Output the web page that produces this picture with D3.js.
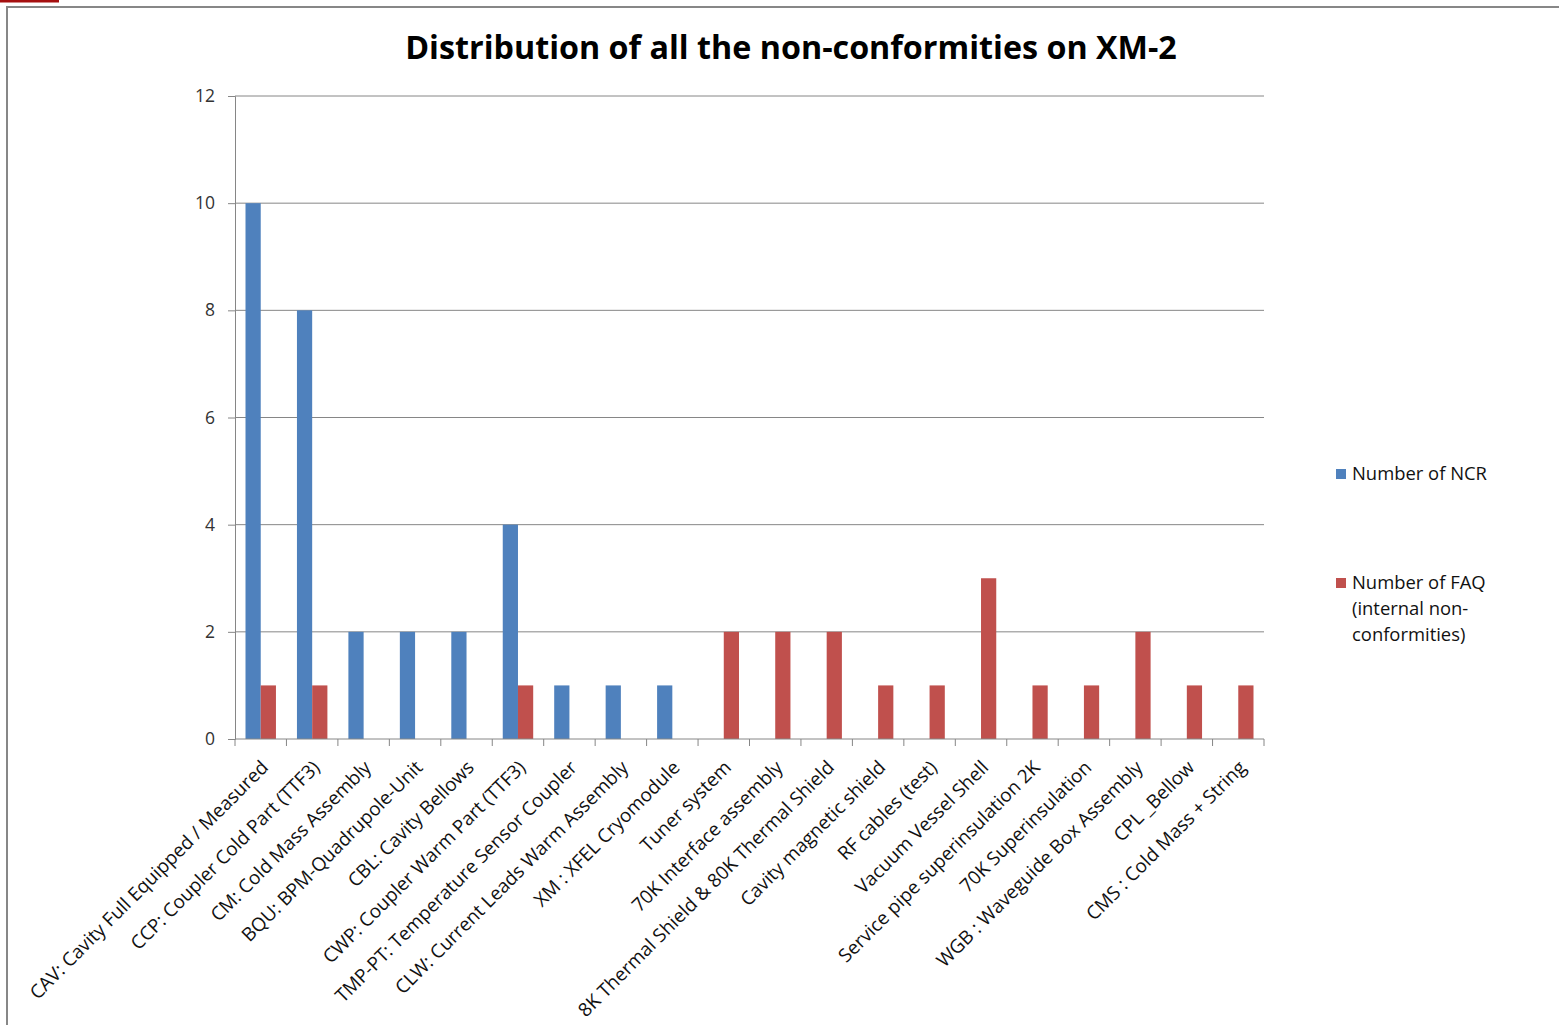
<!DOCTYPE html>
<html>
<head>
<meta charset="utf-8">
<script src="https://cdn.jsdelivr.net/npm/d3@7"></script>
<style>
  body { margin: 0; background: #fff; }
  text { font-family: "Open Sans", sans-serif; }
</style>
</head>
<body>
<div id="viz"></div>
<script>
// categories and series values
const categories = [
  "CAV: Cavity Full Equipped / Measured",
  "CCP: Coupler Cold Part (TTF3)",
  "CM: Cold Mass Assembly",
  "BQU: BPM-Quadrupole-Unit",
  "CBL: Cavity Bellows",
  "CWP: Coupler Warm Part (TTF3)",
  "TMP-PT: Temperature Sensor Coupler",
  "CLW: Current Leads Warm Assembly",
  "XM : XFEL Cryomodule",
  "Tuner system",
  "70K Interface assembly",
  "8K Thermal Shield & 80K Thermal Shield",
  "Cavity magnetic shield",
  "RF cables (test)",
  "Vacuum Vessel Shell",
  "Service pipe superinsulation 2K",
  "70K Superinsulation",
  "WGB : Waveguide Box Assembly",
  "CPL _Bellow",
  "CMS : Cold Mass + String"
]
const ncr = [10, 8, 2, 2, 2, 4, 1, 1, 1, 0, 0, 0, 0, 0, 0, 0, 0, 0, 0, 0]
const faq = [1, 1, 0, 0, 0, 1, 0, 0, 0, 2, 2, 2, 1, 1, 3, 1, 1, 2, 1, 1]
const yTicks = [0, 2, 4, 6, 8, 10, 12]
const seriesNames = ["Number of NCR", "Number of FAQ"]
const legendLines = [["Number of NCR"], ["Number of FAQ", "(internal non-", "conformities)"]]
const colors = ["#4F81BD", "#C0504D"]

const width = 1559
const height = 1025
const margin = {left: 235, top: 96, right: 295, bottom: 286}
const g_width = width - margin.left - margin.right
const g_height = height - margin.top - margin.bottom

// scale a text's font size so its first element spans the target width
function fitSize(sel, base, target) {
  const w = sel.node().getComputedTextLength()
  const s = base * target / w
  sel.attr("font-size", s)
  return s
}

const svg = d3.select("#viz")
  .append("svg")
  .attr("width", width)
  .attr("height", height)

// outer frame
svg.append("rect")
  .attr("x", 7).attr("y", 7)
  .attr("width", width + 10).attr("height", height + 10)
  .attr("fill", "none")
  .attr("stroke", "#878787")
  .attr("stroke-width", 2)
svg.append("rect")
  .attr("x", 0).attr("y", 0)
  .attr("width", 59).attr("height", 2.5)
  .attr("fill", "#A50F0F")

// title
const title = svg.append("text")
  .attr("x", 791)
  .attr("y", 59)
  .attr("text-anchor", "middle")
  .attr("font-size", 30)
  .attr("font-weight", "bold")
  .attr("fill", "#000")
  .text("Distribution of all the non-conformities on XM-2")
fitSize(title, 30, 772)

const g = svg.append("g")
  .attr("transform", "translate(" + margin.left + "," + margin.top + ")")

const x = d3.scaleBand().domain(categories).range([0, g_width])
const x1 = d3.scaleBand().domain(seriesNames).range([10.5, x.bandwidth() - 10.5])
const y = d3.scaleLinear().domain([0, 12]).range([g_height, 0])

// gridlines
g.append("g")
  .selectAll("line")
  .data(yTicks.slice(1))
  .enter()
  .append("line")
  .attr("x1", 0).attr("x2", g_width)
  .attr("y1", d => y(d)).attr("y2", d => y(d))
  .attr("stroke", "#868686")
  .attr("stroke-width", 1)

// y axis
const yAxis = g.append("g")
  .call(d3.axisLeft(y).tickValues(yTicks).tickSize(7).tickPadding(13))
yAxis.selectAll("path, line").attr("stroke", "#868686")
yAxis.selectAll("text")
  .style("font-family", "'Open Sans', sans-serif")
  .style("font-size", "17.5px")
  .attr("fill", "#333")

// bars
const rows = categories.map((c, i) => ({cat: c, values: [ncr[i], faq[i]]}))
const groups = g.selectAll(".grp")
  .data(rows)
  .enter()
  .append("g")
  .attr("transform", d => "translate(" + x(d.cat) + ",0)")
groups.selectAll("rect")
  .data(d => d.values.map((v, k) => ({name: seriesNames[k], v: v, k: k})).filter(e => e.v > 0))
  .enter()
  .append("rect")
  .attr("x", d => x1(d.name))
  .attr("width", x1.bandwidth())
  .attr("y", d => y(d.v))
  .attr("height", d => g_height - y(d.v))
  .attr("fill", d => colors[d.k])

// x axis with ticks on the category boundaries
const xa = g.append("g").attr("transform", "translate(0," + g_height + ")")
xa.append("line")
  .attr("x1", 0).attr("x2", g_width)
  .attr("stroke", "#868686")
xa.selectAll(".tk")
  .data(categories.concat(["end"]))
  .enter()
  .append("line")
  .attr("x1", (d, i) => i * x.step()).attr("x2", (d, i) => i * x.step())
  .attr("y1", 0).attr("y2", 7)
  .attr("stroke", "#868686")
const labels = xa.selectAll(".lbl")
  .data(categories)
  .enter()
  .append("text")
  .attr("transform", d => "translate(" + (x(d) + x.bandwidth() / 2 + 4) + ",25)rotate(-45)")
  .attr("dy", "0.35em")
  .attr("text-anchor", "end")
  .attr("font-size", 17)
  .attr("fill", "#111")
  .text(d => d)
fitSize(labels, 17, 328)

// legend
const legend = svg.append("g")
const legendY = [474, 583]
legendLines.forEach((lines, k) => {
  legend.append("rect")
    .attr("x", 1336).attr("y", legendY[k] - 5)
    .attr("width", 10).attr("height", 10)
    .attr("fill", colors[k])
  lines.forEach((t, j) => {
    legend.append("text")
      .attr("class", "leg")
      .attr("x", 1352)
      .attr("y", legendY[k] + j * 26)
      .attr("dy", "0.35em")
      .attr("font-size", 18)
      .attr("fill", "#111")
      .text(t)
  })
})
fitSize(legend.selectAll(".leg"), 18, 135)
</script>
</body>
</html>
